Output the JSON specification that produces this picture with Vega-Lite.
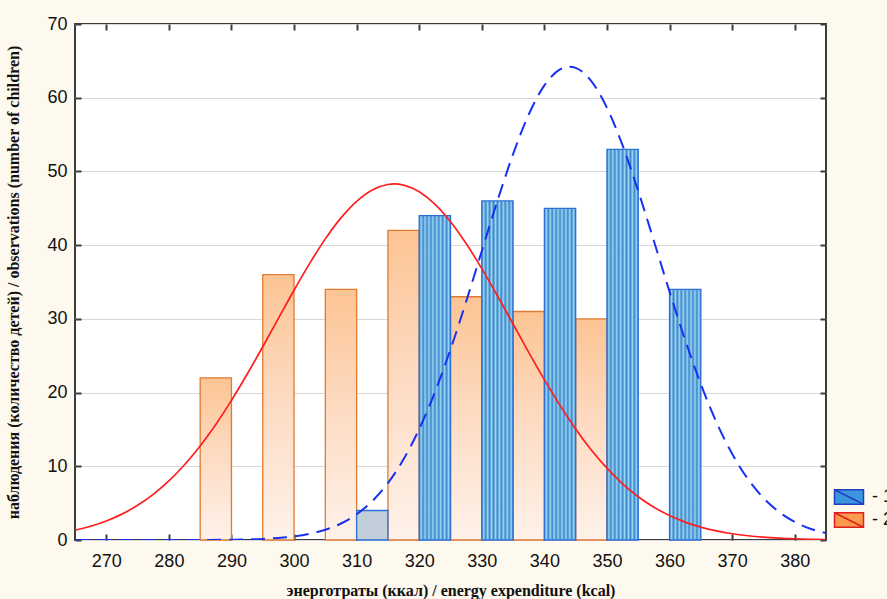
{
  "$schema": "https://vega.github.io/schema/vega-lite/v6.json",
  "width": 751,
  "height": 516,
  "autosize": {"type": "none"},
  "padding": {"left": 75, "top": 24, "right": 61, "bottom": 59},
  "background": "#fdf9ee",
  "config": {
    "view": {"fill": "#ffffff", "stroke": "#3c3c3c", "strokeWidth": 2},
    "axis": {"labelFont": "Liberation Sans", "labelFontSize": 18, "labelColor": "#111111", "titleFont": "Liberation Serif", "titleFontSize": 16, "titleFontWeight": "bold", "titleColor": "#111111", "domain": false}
  },
  "datasets": {
    "orange": [
      {"series": "2", "x0": 285, "x1": 290, "n": 22},
      {"series": "2", "x0": 295, "x1": 300, "n": 36},
      {"series": "2", "x0": 305, "x1": 310, "n": 34},
      {"series": "2", "x0": 315, "x1": 320, "n": 42},
      {"series": "2", "x0": 325, "x1": 330, "n": 33},
      {"series": "2", "x0": 335, "x1": 340, "n": 31},
      {"series": "2", "x0": 345, "x1": 350, "n": 30}
    ],
    "blue": [
      {"series": "1", "x0": 320, "x1": 325, "n": 44},
      {"series": "1", "x0": 330, "x1": 335, "n": 46},
      {"series": "1", "x0": 340, "x1": 345, "n": 45},
      {"series": "1", "x0": 350, "x1": 355, "n": 53},
      {"series": "1", "x0": 360, "x1": 365, "n": 34}
    ],
    "blueSmall": [
      {"series": "1", "x0": 310, "x1": 315, "n": 4}
    ],
    "legendRows": [
      {"series": "1", "x0": 310, "x1": 315, "n": 4},
      {"series": "2", "x0": 285, "x1": 290, "n": 22}
    ],
    "red": [
      {"x": 265, "y": 1.32}, {"x": 267.5, "y": 1.86}, {"x": 270, "y": 2.58}, {"x": 272.5, "y": 3.51},
      {"x": 275, "y": 4.71}, {"x": 277.5, "y": 6.2}, {"x": 280, "y": 8.02}, {"x": 282.5, "y": 10.21},
      {"x": 285, "y": 12.76}, {"x": 287.5, "y": 15.68}, {"x": 290, "y": 18.94}, {"x": 292.5, "y": 22.48},
      {"x": 295, "y": 26.22}, {"x": 297.5, "y": 30.07}, {"x": 300, "y": 33.88}, {"x": 302.5, "y": 37.52},
      {"x": 305, "y": 40.85}, {"x": 307.5, "y": 43.7}, {"x": 310, "y": 45.95}, {"x": 312.5, "y": 47.49},
      {"x": 315, "y": 48.23}, {"x": 316, "y": 48.3}, {"x": 317.5, "y": 48.15}, {"x": 320, "y": 47.24},
      {"x": 322.5, "y": 45.56}, {"x": 325, "y": 43.18}, {"x": 327.5, "y": 40.22}, {"x": 330, "y": 36.81},
      {"x": 332.5, "y": 33.13}, {"x": 335, "y": 29.3}, {"x": 337.5, "y": 25.46}, {"x": 340, "y": 21.75},
      {"x": 342.5, "y": 18.26}, {"x": 345, "y": 15.07}, {"x": 347.5, "y": 12.22}, {"x": 350, "y": 9.74},
      {"x": 352.5, "y": 7.63}, {"x": 355, "y": 5.87}, {"x": 357.5, "y": 4.45}, {"x": 360, "y": 3.31},
      {"x": 362.5, "y": 2.42}, {"x": 365, "y": 1.74}, {"x": 367.5, "y": 1.23}, {"x": 370, "y": 0.85},
      {"x": 372.5, "y": 0.58}, {"x": 375, "y": 0.39}, {"x": 377.5, "y": 0.26}, {"x": 380, "y": 0.17},
      {"x": 382.5, "y": 0.1}, {"x": 385, "y": 0.07}
    ],
    "blueCurve": [
      {"x": 265, "y": 0}, {"x": 275, "y": 0}, {"x": 285, "y": 0.01}, {"x": 290, "y": 0.04},
      {"x": 295, "y": 0.15}, {"x": 297.5, "y": 0.28}, {"x": 300, "y": 0.49}, {"x": 302.5, "y": 0.84},
      {"x": 305, "y": 1.39}, {"x": 307.5, "y": 2.24}, {"x": 310, "y": 3.49}, {"x": 312.5, "y": 5.28},
      {"x": 315, "y": 7.72}, {"x": 317.5, "y": 10.95}, {"x": 320, "y": 15.05}, {"x": 322.5, "y": 20.04},
      {"x": 325, "y": 25.86}, {"x": 327.5, "y": 32.34}, {"x": 330, "y": 39.19}, {"x": 332.5, "y": 46.01},
      {"x": 335, "y": 52.35}, {"x": 337.5, "y": 57.72}, {"x": 340, "y": 61.67}, {"x": 342.5, "y": 63.84},
      {"x": 344, "y": 64.2}, {"x": 345, "y": 64.04}, {"x": 347.5, "y": 62.25}, {"x": 350, "y": 58.63},
      {"x": 352.5, "y": 53.52}, {"x": 355, "y": 47.33}, {"x": 357.5, "y": 40.57}, {"x": 360, "y": 33.69},
      {"x": 362.5, "y": 27.11}, {"x": 365, "y": 21.14}, {"x": 367.5, "y": 15.97}, {"x": 370, "y": 11.7},
      {"x": 372.5, "y": 8.3}, {"x": 375, "y": 5.71}, {"x": 377.5, "y": 3.8}, {"x": 380, "y": 2.45},
      {"x": 382.5, "y": 1.53}, {"x": 385, "y": 0.93}
    ]
  },
  "resolve": {"axis": {"x": "independent", "y": "independent"}},
  "layer": [
    {
      "data": {"name": "orange"},
      "mark": {
        "type": "bar",
        "strokeWidth": 1.3,
        "stroke": "#e07a30",
        "fill": {"gradient": "linear", "x1": 0, "y1": 0, "x2": 0, "y2": 1, "stops": [
          {"offset": 0, "color": "#fcc494"},
          {"offset": 0.5, "color": "#fddcc4"},
          {"offset": 1, "color": "#fef2ea"}
        ]}
      },
      "encoding": {
        "x": {"field": "x0", "type": "quantitative", "scale": {"domain": [265, 385], "nice": false, "zero": false},
          "axis": {"orient": "bottom", "values": [270, 280, 290, 300, 310, 320, 330, 340, 350, 360, 370, 380], "ticks": false, "grid": false, "labelPadding": 12, "title": "энерготраты (ккал) / energy expenditure (kcal)", "titlePadding": 12}},
        "x2": {"field": "x1"},
        "y": {"field": "n", "type": "quantitative", "scale": {"domain": [0, 70], "nice": false},
          "axis": {"orient": "left", "values": [0, 10, 20, 30, 40, 50, 60, 70], "ticks": false, "grid": true, "gridColor": "#d8d8d8", "gridWidth": 1, "labelPadding": 8, "title": "наблюдения (количество детей) / observations (number of children)", "titlePadding": 25}},
        "y2": {"datum": 0}
      }
    },
    {
      "data": {"name": "blue"},
      "mark": {
        "type": "bar",
        "strokeWidth": 1.3,
        "stroke": "#2a6fd6",
        "fill": {"gradient": "linear", "x1": 0, "y1": 0, "x2": 1, "y2": 0, "stops": [
          {"offset": 0, "color": "#3b86c6"}, {"offset": 0.0625, "color": "#9ad5f6"},
          {"offset": 0.125, "color": "#3b86c6"}, {"offset": 0.1875, "color": "#9ad5f6"},
          {"offset": 0.25, "color": "#3b86c6"}, {"offset": 0.3125, "color": "#9ad5f6"},
          {"offset": 0.375, "color": "#3b86c6"}, {"offset": 0.4375, "color": "#9ad5f6"},
          {"offset": 0.5, "color": "#3b86c6"}, {"offset": 0.5625, "color": "#9ad5f6"},
          {"offset": 0.625, "color": "#3b86c6"}, {"offset": 0.6875, "color": "#9ad5f6"},
          {"offset": 0.75, "color": "#3b86c6"}, {"offset": 0.8125, "color": "#9ad5f6"},
          {"offset": 0.875, "color": "#3b86c6"}, {"offset": 0.9375, "color": "#9ad5f6"},
          {"offset": 1, "color": "#3b86c6"}
        ]}
      },
      "encoding": {
        "x": {"field": "x0", "type": "quantitative", "scale": {"domain": [265, 385], "nice": false, "zero": false},
          "axis": {"orient": "top", "values": [270, 280, 290, 300, 310, 320, 330, 340, 350, 360, 370, 380], "labels": false, "ticks": true, "tickSize": -6, "tickWidth": 2, "tickColor": "#3c3c3c", "grid": false, "title": null}},
        "x2": {"field": "x1"},
        "y": {"field": "n", "type": "quantitative", "scale": {"domain": [0, 70], "nice": false},
          "axis": {"orient": "right", "values": [0, 10, 20, 30, 40, 50, 60, 70], "labels": false, "ticks": true, "tickSize": -6, "tickWidth": 2, "tickColor": "#3c3c3c", "grid": false, "title": null}},
        "y2": {"datum": 0}
      }
    },
    {
      "data": {"name": "blueSmall"},
      "mark": {"type": "bar", "strokeWidth": 1.3, "fill": "#c3cedb", "stroke": "#2a6fd6"},
      "encoding": {
        "x": {"field": "x0", "type": "quantitative", "scale": {"domain": [265, 385], "nice": false, "zero": false},
          "axis": {"orient": "bottom", "values": [270, 280, 290, 300, 310, 320, 330, 340, 350, 360, 370, 380], "labels": false, "ticks": true, "tickSize": -6, "tickWidth": 2, "tickColor": "#3c3c3c", "grid": false, "title": null}},
        "x2": {"field": "x1"},
        "y": {"field": "n", "type": "quantitative", "scale": {"domain": [0, 70], "nice": false},
          "axis": {"orient": "left", "values": [0, 10, 20, 30, 40, 50, 60, 70], "labels": false, "ticks": true, "tickSize": -6, "tickWidth": 2, "tickColor": "#3c3c3c", "grid": false, "title": null}},
        "y2": {"datum": 0}
      }
    },
    {
      "data": {"name": "legendRows"},
      "mark": {"type": "bar", "opacity": 0, "strokeWidth": 1.5},
      "encoding": {
        "x": {"field": "x0", "type": "quantitative", "axis": null},
        "x2": {"field": "x1"},
        "y": {"field": "n", "type": "quantitative", "axis": null},
        "y2": {"datum": 0},
        "fill": {"field": "series", "type": "nominal", "scale": {"domain": ["1", "2"], "range": ["#3b96de", "#f99a4c"]},
          "legend": {
            "orient": "none", "legendX": 765, "legendY": 464, "title": null, "padding": 0,
            "symbolType": "M-2,-1H2V1H-2Z M-2,-1L2,1", "symbolSize": 210, "symbolStrokeWidth": 1.5, "symbolOpacity": 1,
            "labelFont": "Liberation Sans", "labelFontSize": 18, "labelColor": "#111111", "labelOffset": 14, "rowPadding": 1,
            "labelExpr": "'- ' + datum.label"
          }},
        "stroke": {"field": "series", "type": "nominal", "scale": {"domain": ["1", "2"], "range": ["#1f3fc0", "#e02020"]},
          "legend": {
            "orient": "none", "legendX": 765, "legendY": 464, "title": null, "padding": 0,
            "symbolType": "M-2,-1H2V1H-2Z M-2,-1L2,1", "symbolSize": 210, "symbolStrokeWidth": 1.5, "symbolOpacity": 1,
            "labelFont": "Liberation Sans", "labelFontSize": 18, "labelColor": "#111111", "labelOffset": 14, "rowPadding": 1,
            "labelExpr": "'- ' + datum.label"
          }}
      }
    },
    {
      "data": {"name": "red"},
      "mark": {"type": "line", "color": "#ff1e1e", "strokeWidth": 1.7, "interpolate": "monotone", "clip": true},
      "encoding": {
        "x": {"field": "x", "type": "quantitative", "axis": null},
        "y": {"field": "y", "type": "quantitative", "axis": null}
      }
    },
    {
      "data": {"name": "blueCurve"},
      "mark": {"type": "line", "color": "#1a30f0", "strokeWidth": 2, "strokeDash": [14, 8], "interpolate": "monotone", "clip": true},
      "encoding": {
        "x": {"field": "x", "type": "quantitative", "axis": null},
        "y": {"field": "y", "type": "quantitative", "axis": null}
      }
    }
  ]
}
